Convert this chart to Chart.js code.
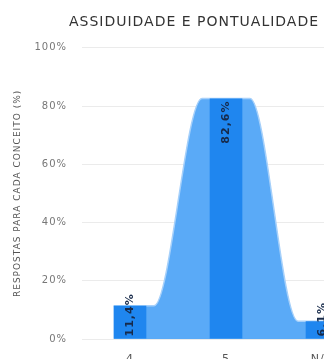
<!DOCTYPE html>
<html><head><meta charset="utf-8">
<script src="https://cdn.jsdelivr.net/npm/chart.js@4.4.1/dist/chart.umd.min.js"></script>
<style>html,body{margin:0;padding:0;overflow:hidden;background:#fff;width:324px;height:360px}</style>
</head><body>
<canvas id="c" width="388" height="360" style="display:block;width:388px;height:360px"></canvas>
<script>
const categories = ['4', '5', 'N/A'];
const percentages = [11.4, 82.6, 6.1];
const valueLabels = ['11,4%', '82,6%', '6,1%'];
const yTicks = [0, 20, 40, 60, 80, 100];
const chartTitle = 'ASSIDUIDADE E PONTUALIDADE';
const yAxisTitle = 'RESPOSTAS PARA CADA CONCEITO (%)';

const BAR_FRAC = 0.34;
const PLATEAU = 0.25;
const areaPoints = [];
percentages.forEach((v, i) => {
  const left = i === 0 ? i - BAR_FRAC / 2 : i - PLATEAU;
  const right = i === percentages.length - 1 ? i + 0.5 : i + PLATEAU;
  areaPoints.push({x: left, y: v}, {x: right, y: v});
});
const baseline = [{x: areaPoints[0].x, y: 0}, {x: areaPoints[areaPoints.length - 1].x, y: 0}];

Chart.defaults.font.family = '"DejaVu Sans", sans-serif';

const letterSpacingPlugin = {
  id: 'ls',
  beforeDraw(chart) { chart.ctx.letterSpacing = '1px'; },
  afterDraw(chart) { chart.ctx.letterSpacing = '0px'; }
};

const valueLabelPlugin = {
  id: 'vl',
  afterDatasetsDraw(chart) {
    const meta = chart.getDatasetMeta(0);
    const ctx = chart.ctx;
    ctx.save();
    ctx.font = 'bold 11px "DejaVu Sans"';
    ctx.fillStyle = '#172a4a';
    ctx.textAlign = 'right';
    ctx.textBaseline = 'middle';
    meta.data.forEach((bar, i) => {
      const t = valueLabels[i];
      const w = ctx.measureText(t).width;
      const yEnd = Math.min(bar.y + 2, bar.base - 2 - w);
      ctx.save();
      ctx.translate(bar.x, yEnd);
      ctx.rotate(-Math.PI / 2);
      ctx.fillText(t, 0, 0);
      ctx.restore();
    });
    ctx.restore();
  }
};

new Chart(document.getElementById('c'), {
  type: 'bar',
  data: {
    labels: categories,
    datasets: [
      { type: 'bar', data: percentages, backgroundColor: '#1f86ef', grouped: false, barPercentage: BAR_FRAC, categoryPercentage: 1, order: 1, xAxisID: 'x', yAxisID: 'y' },
      { type: 'line', data: areaPoints, xAxisID: 'xa', yAxisID: 'y', fill: 'origin', backgroundColor: '#5aaaf7', borderColor: '#a6d0fa', borderWidth: 1.5, pointRadius: 0, cubicInterpolationMode: 'monotone', order: 2 },
      { type: 'line', data: baseline, xAxisID: 'xa', yAxisID: 'y', fill: false, borderColor: '#a6d0fa', borderWidth: 1.5, pointRadius: 0, order: 3 }
    ]
  },
  options: {
    responsive: false,
    animation: false,
    devicePixelRatio: 1,
    layout: { padding: { left: 18, right: 18, top: 0, bottom: 0 } },
    plugins: {
      legend: { display: false },
      tooltip: { enabled: false },
      title: { display: true, text: chartTitle, color: '#333', font: { size: 14, weight: 'normal' }, padding: { top: 14, bottom: 17 } }
    },
    scales: {
      x: {
        type: 'category', offset: true,
        grid: { display: false }, border: { display: false },
        ticks: { color: '#555', font: { size: 11 }, padding: 6 },
        afterFit(s) { s.height = 20; }
      },
      xa: { type: 'linear', display: false, offset: false, grid: { offset: false }, position: 'bottom', min: -0.5, max: categories.length - 0.5 },
      y: {
        min: yTicks[0], max: yTicks[yTicks.length - 1],
        ticks: { stepSize: yTicks[1] - yTicks[0], callback: v => v + '%', color: '#777', font: { size: 10 }, padding: 15 },
        grid: { color: '#ebebeb', drawTicks: false },
        border: { display: false },
        title: { display: true, text: yAxisTitle, color: '#555', font: { size: 9 }, padding: { top: -6, bottom: 0 } },
        afterFit(s) { s.width = 64; }
      }
    }
  },
  plugins: [letterSpacingPlugin, valueLabelPlugin]
});
</script>
</body></html>
